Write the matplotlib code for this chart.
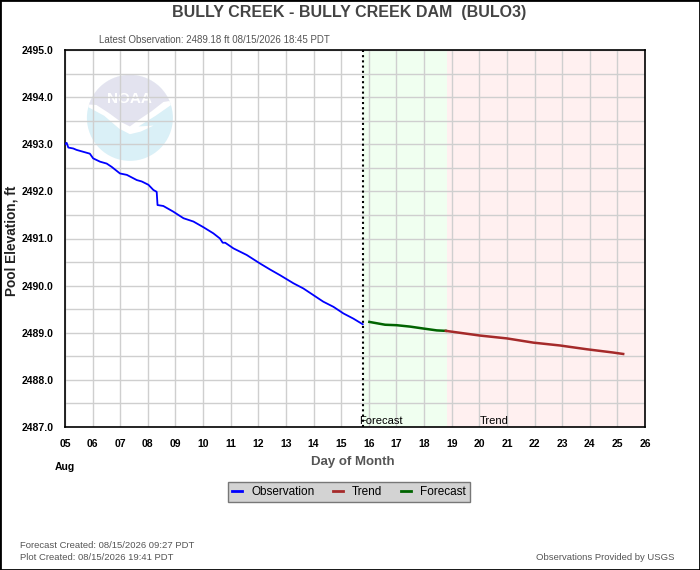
import matplotlib
matplotlib.use('Agg')
import matplotlib.pyplot as plt
from matplotlib.patches import Circle, Polygon, Rectangle
from matplotlib.lines import Line2D
from matplotlib.transforms import Affine2D

# day of month (August) and pool elevation, ft
obs_days = [5.0, 5.06, 5.12, 5.30, 5.42, 5.66, 5.90, 6.02, 6.27, 6.51, 6.69, 6.99,
            7.24, 7.60, 7.78, 8.02, 8.20, 8.32, 8.35, 8.56, 8.92, 9.29, 9.65, 10.01,
            10.37, 10.61, 10.71, 10.80, 11.10, 11.58, 12.06, 12.43, 12.79, 13.27,
            13.63, 13.99, 14.35, 14.72, 15.08, 15.44, 15.78]
obs_vals = [2493.00, 2493.03, 2492.93, 2492.91, 2492.88, 2492.84, 2492.80, 2492.70,
            2492.63, 2492.59, 2492.52, 2492.38, 2492.35, 2492.24, 2492.21, 2492.14,
            2492.03, 2491.99, 2491.71, 2491.69, 2491.57, 2491.43, 2491.36, 2491.24,
            2491.11, 2491.00, 2490.91, 2490.91, 2490.79, 2490.65, 2490.47, 2490.34,
            2490.22, 2490.05, 2489.94, 2489.80, 2489.66, 2489.55, 2489.41, 2489.30,
            2489.18]

fcst_days = [16.02, 16.59, 17.01, 17.50, 17.97, 18.46, 18.79]
fcst_vals = [2489.23, 2489.17, 2489.16, 2489.13, 2489.09, 2489.05, 2489.04]

trend_days = [18.79, 20.03, 21.00, 21.96, 22.92, 23.89, 24.85, 25.21]
trend_vals = [2489.04, 2488.94, 2488.88, 2488.79, 2488.73, 2488.65, 2488.58, 2488.55]

last_obs_day = 15.78
fcst_end_day = 18.83
x_ticks = list(range(5, 27))
y_ticks = list(range(2487, 2496))

obs_color = '#0000ff'
fcst_color = '#006400'
trend_color = '#a52a2a'
grid_color = '#cfcfcf'
text_gray = '#555555'

W, H = 700, 570
plt.rcParams['font.family'] = ['Liberation Sans', 'DejaVu Sans']


def fx(px):
    return px / W


def fy(py):
    return 1 - py / H


fig = plt.figure(figsize=(7, 5.7), dpi=100)
fig.patch.set_facecolor('white')
ax = fig.add_axes([fx(65), fy(427), fx(580), 377 / H])

ax.set_xlim(5, 26)
ax.set_ylim(2487, 2495)

# forecast / trend background
ax.axvspan(last_obs_day, fcst_end_day, color='#f0fff0', zorder=0.1, lw=0)
ax.axvspan(fcst_end_day, 26, color='#fff0f0', zorder=0.1, lw=0)


def draw_logo(ax, cx, cy, rx, ry):
    # faded noaa logo, drawn in unit circle coords
    tr = Affine2D().scale(rx, ry).translate(cx, cy) + ax.transData
    circ = Circle((0, 0), 1, transform=tr, fc='#daf0f7', ec='none', zorder=0.3)
    ax.add_patch(circ)
    bird = Polygon([(-1.1, 0.32), (-0.6, 0.05), (-0.25, -0.25), (0.0, -0.38),
                    (0.25, -0.32), (0.55, -0.18), (0.2, -0.2), (0.6, 0.05),
                    (1.1, 0.40), (1.1, 1.2), (-1.1, 1.2)],
                   transform=tr, fc='white', ec='none', zorder=0.31)
    bird.set_clip_path(circ)
    ax.add_patch(bird)
    top = Polygon([(-1.1, 0.32), (-0.78, 0.30), (-0.5, 0.12), (-0.2, -0.1),
                   (0.0, -0.2), (0.2, -0.05), (0.5, 0.15), (0.78, 0.37),
                   (1.1, 0.42), (1.1, 1.2), (-1.1, 1.2)],
                  transform=tr, fc='#e3e3ef', ec='none', zorder=0.32)
    top.set_clip_path(circ)
    ax.add_patch(top)
    ax.text(cx, cy + 0.44 * ry, 'NOAA', color='white', fontsize=11, fontweight='bold',
            ha='center', va='center', zorder=0.33)


draw_logo(ax, 7.35, 2493.56, 43 / 27.62, 43 / 47.125)

ax.set_axisbelow(True)
ax.set_xticks(x_ticks)
ax.set_xticklabels(['%02d' % d for d in x_ticks])
ax.set_yticks(y_ticks)
ax.set_yticklabels(['%.1f' % v for v in y_ticks])
ax.set_yticks([v + 0.5 for v in y_ticks[:-1]], minor=True)
ax.grid(True, which='both', color=grid_color, lw=1)
ax.tick_params(which='both', length=0)
ax.tick_params(axis='y', pad=8.5, labelsize=7.5)
ax.tick_params(axis='x', pad=8.5, labelsize=7.5)
for lab in ax.get_xticklabels() + ax.get_yticklabels():
    lab.set_fontweight('bold')
for s in ax.spines.values():
    s.set_color('black')
    s.set_linewidth(1.2)

ax.plot(obs_days, obs_vals, color=obs_color, lw=1.3, zorder=3)
ax.plot(fcst_days, fcst_vals, color=fcst_color, lw=1.8, zorder=3)
ax.plot(trend_days, trend_vals, color=trend_color, lw=1.8, zorder=3)
ax.axvline(last_obs_day, color='black', lw=1.5, ls=(0, (1, 1.5)), zorder=4)

ax.text(last_obs_day - 0.12, 2487.03, 'Forecast', fontsize=8, ha='left', va='bottom', zorder=5)
ax.text(20.0, 2487.03, 'Trend', fontsize=8, ha='left', va='bottom', zorder=5)

# titles and labels
fig.text(fx(349), fy(13), 'BULLY CREEK - BULLY CREEK DAM  (BULO3)', fontsize=11.5,
         fontweight='bold', color='#444444', ha='center', va='center')
fig.text(fx(214), fy(40), 'Latest Observation: 2489.18 ft 08/15/2026 18:45 PDT',
         fontsize=7, color=text_gray, ha='center', va='center')
fig.text(fx(353), fy(462), 'Day of Month', fontsize=9.5, fontweight='bold',
         color=text_gray, ha='center', va='center')
fig.text(fx(12), fy(241), 'Pool Elevation, ft', fontsize=9.8, fontweight='bold',
         color='#222222', ha='center', va='center', rotation=90)
fig.text(fx(65), fy(467), 'Aug', fontsize=7.5, fontweight='bold', ha='center', va='center')

fig.text(fx(20), fy(545), 'Forecast Created: 08/15/2026 09:27 PDT', fontsize=6.8,
         color=text_gray, ha='left', va='center')
fig.text(fx(20), fy(557), 'Plot Created: 08/15/2026 19:41 PDT', fontsize=6.8,
         color=text_gray, ha='left', va='center')
fig.text(fx(675), fy(558), 'Observations Provided by USGS', fontsize=6.8,
         color=text_gray, ha='right', va='center')

handles = [Line2D([], [], color=obs_color, lw=2),
           Line2D([], [], color=trend_color, lw=2),
           Line2D([], [], color=fcst_color, lw=2)]
leg = fig.legend(handles, ['Observation', 'Trend', 'Forecast'], loc='center',
                 bbox_to_anchor=(fx(349), fy(492)), ncol=3, fontsize=8.5,
                 frameon=True, fancybox=False, handlelength=0.8, handletextpad=0.8,
                 columnspacing=1.6, borderpad=0.35, borderaxespad=0)
leg.get_frame().set_facecolor('#d3d3d3')
leg.get_frame().set_edgecolor('#777777')
leg.get_frame().set_alpha(1)

# outer frame
fig.patches.append(Rectangle((0, 0), 1, 1, transform=fig.transFigure, fill=False,
                             ec='black', lw=2))

fig.savefig('out.png', dpi=100)
